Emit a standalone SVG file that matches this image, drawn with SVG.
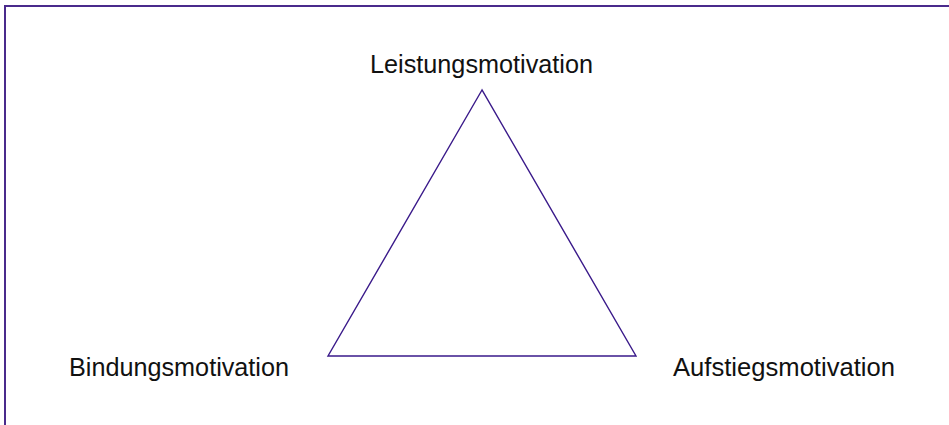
<svg xmlns="http://www.w3.org/2000/svg" width="949" height="425" viewBox="0 0 949 425">
<style>
.lbl{font-family:"Liberation Sans",Arial,sans-serif;font-size:26px;fill:#111}
.frame{fill:none;stroke:#4a2a8c;stroke-width:2}
.tri{fill:none;stroke:#3a1a8a;stroke-width:1.4;stroke-linejoin:miter}
</style>
<rect width="949" height="425" fill="#fff"/>
<g id="frame"><path class="frame" d="M5,425 V6 H949"/></g>
<g id="connectors"><polygon class="tri" points="482,90 328,356 636,356"/></g>
<g id="node-leistung"><text class="lbl" x="370" y="73" textLength="223" lengthAdjust="spacingAndGlyphs">Leistungsmotivation</text></g>
<g id="node-bindung"><text class="lbl" x="69" y="376" textLength="220" lengthAdjust="spacingAndGlyphs">Bindungsmotivation</text></g>
<g id="node-aufstieg"><text class="lbl" x="673" y="376" textLength="222" lengthAdjust="spacingAndGlyphs">Aufstiegsmotivation</text></g>
</svg>
